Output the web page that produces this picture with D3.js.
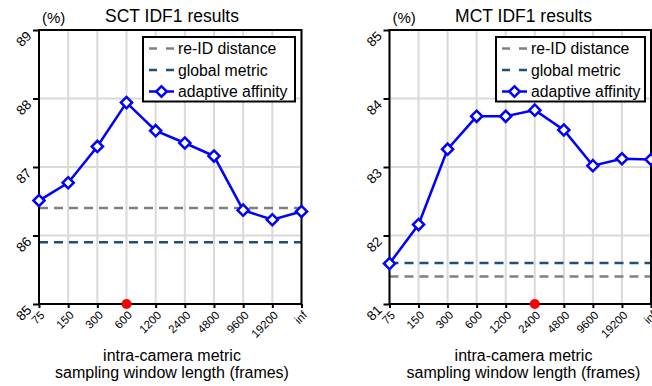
<!DOCTYPE html>
<html>
<head>
<meta charset="utf-8">
<script src="https://cdn.jsdelivr.net/npm/d3@7"></script>
<style>
  html, body { margin: 0; padding: 0; background: #fff; }
  svg { display: block; font-family: Arial, "Liberation Sans", sans-serif; }
</style>
</head>
<body>
<svg id="chart" width="652" height="386"></svg>
<script>
// ---- data ----
const categories = ["75", "150", "300", "600", "1200", "2400", "4800", "9600", "19200", "inf"];

const sctAdaptive = [86.51, 86.77, 87.30, 87.94, 87.53, 87.35, 87.16, 86.37, 86.23, 86.35];
const sctReID = 86.40;
const sctGlobal = 85.90;
const sctBest = "600";
const sctTicks = [85, 86, 87, 88, 89];

const mctAdaptive = [81.59, 82.16, 83.26, 83.74, 83.74, 83.83, 83.54, 83.02, 83.12, 83.11];
const mctReID = 81.40;
const mctGlobal = 81.60;
const mctBest = "2400";
const mctTicks = [81, 82, 83, 84, 85];

const legendLabels = ["re-ID distance", "global metric", "adaptive affinity"];

const colors = { reid: "#808080", global: "#1f4e79", adaptive: "#0000ff", best: "#ff0000", grid: "#d9d9d9" };

const svg = d3.select("#chart");

function panel(cfg) {
  const g = svg.append("g");
  const x = d3.scalePoint().domain(categories).range([cfg.x0, cfg.x1]);
  const y = d3.scaleLinear().domain(cfg.yDomain).range([304, 30]);

  // grid
  g.append("g").selectAll("line.v").data(categories).join("line")
    .attr("x1", d => x(d)).attr("x2", d => x(d))
    .attr("y1", y.range()[1]).attr("y2", y.range()[0])
    .attr("stroke", colors.grid).attr("stroke-width", 2);
  g.append("g").selectAll("line.h").data(cfg.ticks).join("line")
    .attr("x1", cfg.x0).attr("x2", cfg.x1)
    .attr("y1", d => y(d)).attr("y2", d => y(d))
    .attr("stroke", colors.grid).attr("stroke-width", 2);

  // baselines
  const hline = (val, color) => g.append("line")
    .attr("x1", cfg.x0).attr("x2", cfg.x1)
    .attr("y1", y(val)).attr("y2", y(val))
    .attr("stroke", color).attr("stroke-width", 2.5)
    .attr("stroke-dasharray", "9,6");
  hline(cfg.reid, colors.reid);
  hline(cfg.global, colors.global);

  // frame
  g.append("rect")
    .attr("x", cfg.x0).attr("y", y.range()[1])
    .attr("width", cfg.x1 - cfg.x0).attr("height", y.range()[0] - y.range()[1])
    .attr("fill", "none").attr("stroke", "#000").attr("stroke-width", 2);

  // y axis
  const yAxis = d3.axisLeft(y).tickValues(cfg.ticks).tickSize(6).tickFormat(d3.format("d"));
  const ya = g.append("g").attr("transform", `translate(${cfg.x0},0)`).call(yAxis);
  ya.select(".domain").remove();
  ya.selectAll(".tick line").attr("stroke", "#000").attr("stroke-width", 2);
  ya.selectAll(".tick text")
    .attr("x", 0).attr("dy", "0.35em")
    .attr("font-size", 13.5).attr("font-family", "Arial, 'Liberation Sans', sans-serif")
    .attr("fill", "#000")
    .attr("text-anchor", "end")
    .attr("transform", "translate(-10,3) rotate(-45)");

  // x axis
  const xAxis = d3.axisBottom(x).tickSize(4);
  const xa = g.append("g").attr("transform", `translate(0,${y.range()[0]})`).call(xAxis);
  xa.select(".domain").remove();
  xa.selectAll(".tick line").attr("stroke", "#000").attr("stroke-width", 2);
  xa.selectAll(".tick text")
    .attr("y", 0).attr("dy", "0.35em")
    .attr("font-size", 11.5).attr("font-family", "Arial, 'Liberation Sans', sans-serif")
    .attr("fill", "#000")
    .attr("text-anchor", "end")
    .attr("transform", "translate(3,9) rotate(-45)");

  // adaptive line
  const pts = categories.map((c, i) => [x(c), y(cfg.adaptive[i])]);
  g.append("path")
    .attr("d", d3.line()(pts))
    .attr("fill", "none").attr("stroke", colors.adaptive).attr("stroke-width", 2.5);
  const diamond = d3.symbol().type(d3.symbolDiamond2 || d3.symbolDiamond).size(80);
  g.append("g").selectAll("path").data(pts).join("path")
    .attr("d", d3.symbol().type(d3.symbolSquare).size(62))
    .attr("transform", d => `translate(${d[0]},${d[1]}) rotate(45)`)
    .attr("fill", "#fff").attr("stroke", colors.adaptive).attr("stroke-width", 2.5);

  // best marker
  g.append("circle")
    .attr("cx", x(cfg.best)).attr("cy", y.range()[0]).attr("r", 5)
    .attr("fill", colors.best);

  // titles
  g.append("text").attr("x", cfg.titleX).attr("y", 21.5)
    .attr("text-anchor", "middle").attr("font-size", 17.5).text(cfg.title);
  g.append("text").attr("x", cfg.x0 + 3).attr("y", 23)
    .attr("font-size", 15).text("(%)");
  g.append("text").attr("x", cfg.titleX).attr("y", 360.5)
    .attr("text-anchor", "middle").attr("font-size", 16).text("intra-camera metric");
  g.append("text").attr("x", cfg.titleX).attr("y", 377.5)
    .attr("text-anchor", "middle").attr("font-size", 16).text("sampling window length (frames)");

  // legend
  const lx = cfg.legendX, lw = cfg.legendW;
  const lg = g.append("g");
  lg.append("rect").attr("x", lx).attr("y", 37).attr("width", lw).attr("height", 64.5)
    .attr("fill", "#fff").attr("stroke", "#000").attr("stroke-width", 2);
  const rowsY = [48.5, 70, 91.5];
  const rowColors = [colors.reid, colors.global, colors.adaptive];
  legendLabels.forEach((lab, i) => {
    const ly = rowsY[i];
    const line = lg.append("line")
      .attr("x1", lx + 6).attr("x2", lx + 31).attr("y1", ly).attr("y2", ly)
      .attr("stroke", rowColors[i]).attr("stroke-width", 2.5);
    if (i < 2) line.attr("stroke-dasharray", "8,9");
    if (i === 2) {
      lg.append("path")
        .attr("d", d3.symbol().type(d3.symbolSquare).size(55))
        .attr("transform", `translate(${lx + 18.5},${ly}) rotate(45)`)
        .attr("fill", "#fff").attr("stroke", colors.adaptive).attr("stroke-width", 2.5);
    }
    lg.append("text").attr("x", lx + 35).attr("y", ly + 5.5)
      .attr("font-size", 15.8).text(lab);
  });
}

panel({
  x0: 39, x1: 301.5, yDomain: [85, 89], ticks: sctTicks,
  adaptive: sctAdaptive, reid: sctReID, global: sctGlobal, best: sctBest,
  title: "SCT IDF1 results", titleX: 172, legendX: 143, legendW: 152
});
panel({
  x0: 389.5, x1: 651, yDomain: [81, 85], ticks: mctTicks,
  adaptive: mctAdaptive, reid: mctReID, global: mctGlobal, best: mctBest,
  title: "MCT IDF1 results", titleX: 523.5, legendX: 496, legendW: 149
});
</script>
</body>
</html>
